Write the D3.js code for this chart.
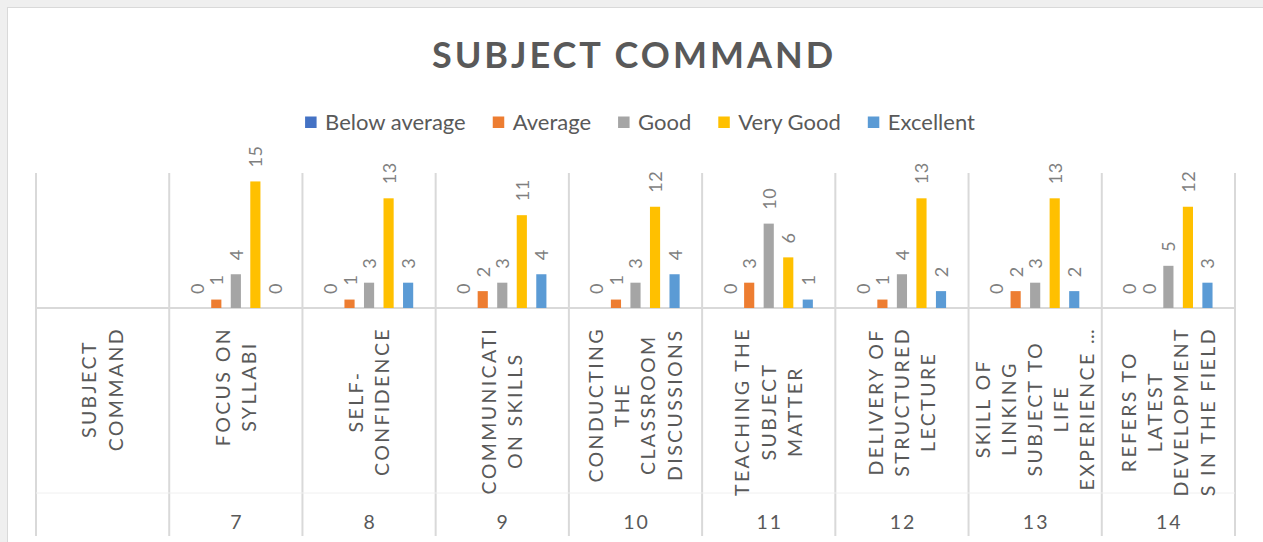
<!DOCTYPE html>
<html>
<head>
<meta charset="utf-8">
<script src="https://cdn.jsdelivr.net/npm/d3@7"></script>
<style>
  body { margin: 0; background: #efefef; }
  svg { display: block; }
  text { font-family: Lato, "Open Sans", sans-serif; }
</style>
</head>
<body>
<svg width="1263" height="542"></svg>
<script>
// chart values
var categories = ["Subject Command", "Focus on syllabi", "Self-confidence", "Communication skills",
  "Conducting the classroom discussions", "Teaching the subject matter", "Delivery of structured lecture",
  "Skill of linking subject to life experiences", "Refers to latest developments in the field"];
var tickLines = [
  ["SUBJECT", "COMMAND"],
  ["FOCUS ON", "SYLLABI"],
  ["SELF-", "CONFIDENCE"],
  ["COMMUNICATI", "ON SKILLS"],
  ["CONDUCTING", "THE", "CLASSROOM", "DISCUSSIONS"],
  ["TEACHING THE", "SUBJECT", "MATTER"],
  ["DELIVERY OF", "STRUCTURED", "LECTURE"],
  ["SKILL OF", "LINKING", "SUBJECT TO", "LIFE", "EXPERIENCE …"],
  ["REFERS TO", "LATEST", "DEVELOPMENT", "S IN THE FIELD"]
];
var itemNumbers = ["", "7", "8", "9", "10", "11", "12", "13", "14"];
var seriesNames = ["Below average", "Average", "Good", "Very Good", "Excellent"];
var belowAverage = [null, 0, 0, 0, 0, 0, 0, 0, 0];
var average      = [null, 1, 1, 2, 1, 3, 1, 2, 0];
var good         = [null, 4, 3, 3, 3, 10, 4, 3, 5];
var veryGood     = [null, 15, 13, 11, 12, 6, 13, 13, 12];
var excellent    = [null, 0, 3, 4, 4, 1, 2, 2, 3];

var seriesValues = [belowAverage, average, good, veryGood, excellent];

var svg = d3.select("svg"),
    width = +svg.attr("width"),
    height = +svg.attr("height");

var color = d3.scaleOrdinal()
  .domain(seriesNames)
  .range(["#4472C4", "#ED7D31", "#A5A5A5", "#FFC000", "#5B9BD5"]);

// chart area
svg.append("rect").attr("width", width).attr("height", height).attr("fill", "#efefef");
svg.append("rect")
  .attr("x", 7.5).attr("y", 7.5)
  .attr("width", width + 10).attr("height", height + 10)
  .attr("fill", "#fff").attr("stroke", "#d9d9d9");

var x0 = d3.scaleBand()
  .domain(d3.range(categories.length))
  .range([36, 1235]);

var x1 = d3.scaleBand()
  .domain(seriesNames)
  .range([0, x0.bandwidth()])
  .paddingInner(0.48)
  .paddingOuter(1.15);

var y = d3.scaleLinear()
  .domain([0, 16])
  .range([308, 173]);

// grid lines
var edges = x0.domain().map(function(d) { return x0(d); }).concat([x0.range()[1]]);
svg.append("g").selectAll("line")
  .data(edges)
  .enter().append("line")
    .attr("x1", function(d) { return d; })
    .attr("x2", function(d) { return d; })
    .attr("y1", y.range()[1])
    .attr("y2", 536)
    .attr("stroke", "#d9d9d9")
    .attr("stroke-width", 2);

svg.append("line")
  .attr("x1", x0.range()[0]).attr("x2", x0.range()[1])
  .attr("y1", 493).attr("y2", 493)
  .attr("stroke", "#f0f0f0").attr("stroke-width", 1);

svg.append("line")
  .attr("x1", x0.range()[0] - 1).attr("x2", x0.range()[1] + 1)
  .attr("y1", y(0)).attr("y2", y(0))
  .attr("stroke", "#d9d9d9")
  .attr("stroke-width", 2);

// bars
var rows = [];
seriesNames.forEach(function(s, si) {
  seriesValues[si].forEach(function(v, ci) {
    if (v !== null) rows.push({ series: s, cat: ci, value: v });
  });
});

svg.append("g").selectAll("rect")
  .data(rows.filter(function(d) { return d.value > 0; }))
  .enter().append("rect")
    .attr("x", function(d) { return x0(d.cat) + x1(d.series); })
    .attr("y", function(d) { return y(d.value); })
    .attr("width", x1.bandwidth())
    .attr("height", function(d) { return y(0) - y(d.value); })
    .attr("fill", function(d) { return color(d.series); });

// value labels
svg.append("g").selectAll("text")
  .data(rows)
  .enter().append("text")
    .attr("transform", function(d) {
      return "translate(" + (x0(d.cat) + x1(d.series) + x1.bandwidth() / 2 + 0.5) + "," + (y(d.value) - 14) + ") rotate(-90)";
    })
    .attr("dy", "0.36em")
    .attr("font-size", 18)
    .attr("letter-spacing", 0.5)
    .attr("fill", "#7f7f7f")
    .text(function(d) { return d.value; });

// category labels
var lineGap = 26.2;
tickLines.forEach(function(lines, ci) {
  var cx = x0(ci) + x0.bandwidth() / 2;
  var g = svg.append("g");
  var texts = g.selectAll("text")
    .data(lines)
    .enter().append("text")
      .attr("text-anchor", "middle")
      .attr("dy", "0.35em")
      .attr("font-size", 19.5)
      .attr("letter-spacing", 2.4)
      .attr("fill", "#595959")
      .text(function(d) { return d; });
  var maxLen = d3.max(texts.nodes(), function(n) { return n.getComputedTextLength(); });
  texts.attr("transform", function(d, j) {
    var lx = cx + (j - (lines.length - 1) / 2) * lineGap;
    return "translate(" + lx + "," + (327 + maxLen / 2) + ") rotate(-90)";
  });
});

// item numbers
svg.append("g").selectAll("text")
  .data(itemNumbers)
  .enter().append("text")
    .attr("x", function(d, i) { return x0(i) + x0.bandwidth() / 2 + 1; })
    .attr("y", 529)
    .attr("text-anchor", "middle")
    .attr("font-size", 19.5)
    .attr("letter-spacing", 2)
    .attr("fill", "#595959")
    .text(function(d) { return d; });

// title
svg.append("text")
  .attr("x", 634)
  .attr("y", 68)
  .attr("text-anchor", "middle")
  .attr("font-size", 36)
  .attr("font-weight", 700)
  .attr("letter-spacing", 3)
  .attr("fill", "#595959")
  .text("SUBJECT COMMAND");

// legend
var legend = svg.append("g");
var items = legend.selectAll("g")
  .data(seriesNames)
  .enter().append("g");
items.append("rect")
  .attr("y", 116.5)
  .attr("width", 11.5).attr("height", 11.5)
  .attr("fill", function(d) { return color(d); });
items.append("text")
  .attr("x", 20)
  .attr("y", 130)
  .attr("font-size", 22)
  .attr("fill", "#595959")
  .text(function(d) { return d; });
var widths = items.select("text").nodes().map(function(n) { return n.getComputedTextLength(); });
var gap = 27;
var total = d3.sum(widths) + widths.length * 20 + (widths.length - 1) * gap;
var pos = 640 - total / 2;
items.attr("transform", function(d, i) {
  var t = "translate(" + pos + ",0)";
  pos += 20 + widths[i] + gap;
  return t;
});
</script>
</body>
</html>
